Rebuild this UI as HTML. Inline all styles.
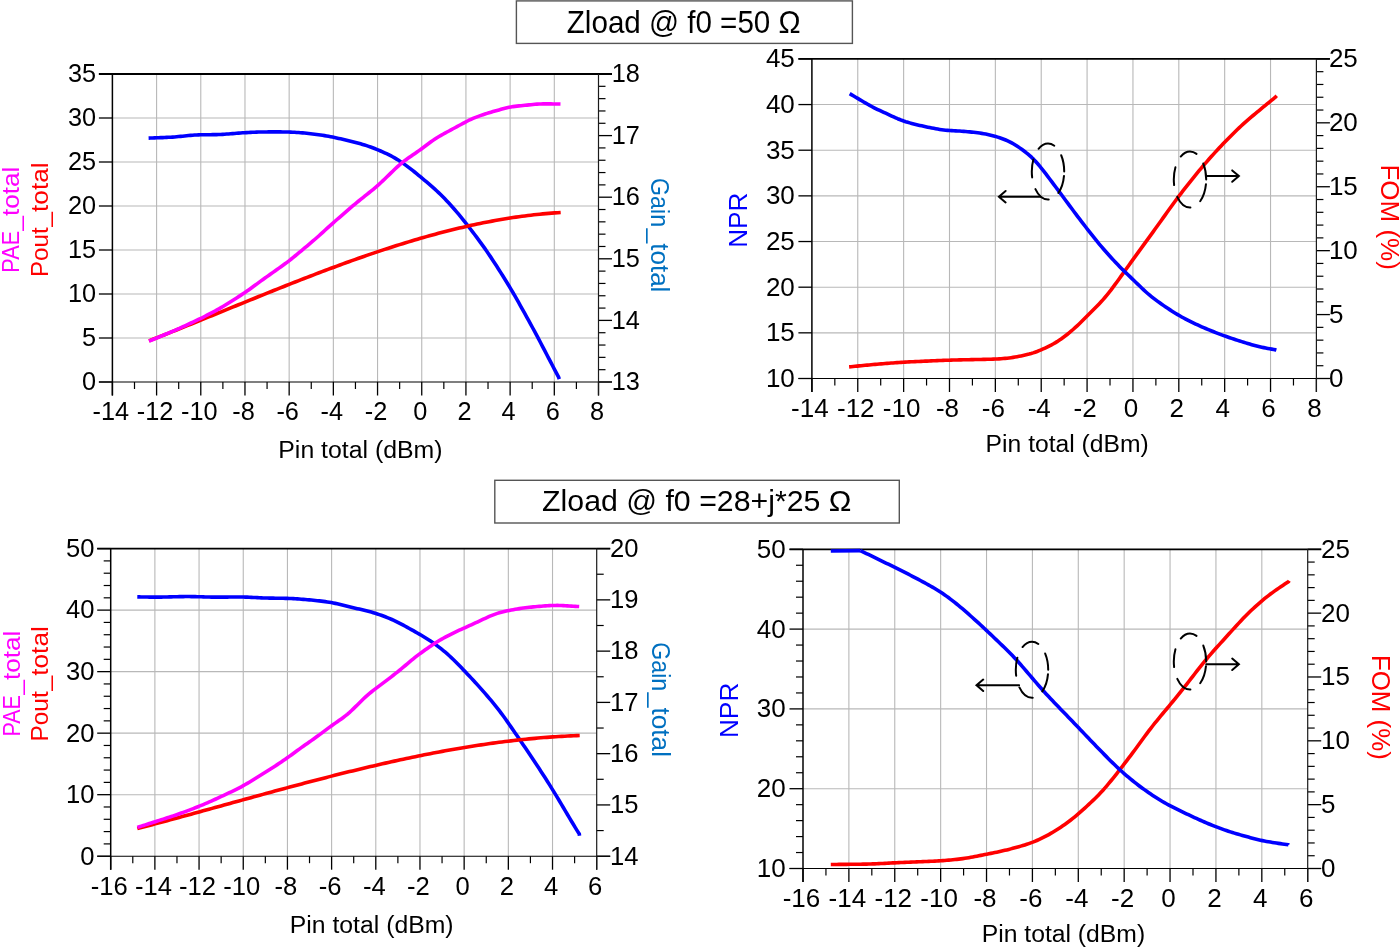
<!DOCTYPE html><html><head><meta charset="utf-8"><style>html,body{margin:0;padding:0;background:#fff;}svg{display:block;will-change:transform;}text{font-family:"Liberation Sans",sans-serif;}</style></head><body>
<svg width="1400" height="948" viewBox="0 0 1400 948">
<rect width="1400" height="948" fill="#fff"/>
<g id="c0">
<line x1="156.59" y1="74" x2="156.59" y2="382" stroke="#b8b8b8" stroke-width="1.1"/>
<line x1="200.78" y1="74" x2="200.78" y2="382" stroke="#b8b8b8" stroke-width="1.1"/>
<line x1="244.97" y1="74" x2="244.97" y2="382" stroke="#b8b8b8" stroke-width="1.1"/>
<line x1="289.16" y1="74" x2="289.16" y2="382" stroke="#b8b8b8" stroke-width="1.1"/>
<line x1="333.35" y1="74" x2="333.35" y2="382" stroke="#b8b8b8" stroke-width="1.1"/>
<line x1="377.55" y1="74" x2="377.55" y2="382" stroke="#b8b8b8" stroke-width="1.1"/>
<line x1="421.74" y1="74" x2="421.74" y2="382" stroke="#b8b8b8" stroke-width="1.1"/>
<line x1="465.93" y1="74" x2="465.93" y2="382" stroke="#b8b8b8" stroke-width="1.1"/>
<line x1="510.12" y1="74" x2="510.12" y2="382" stroke="#b8b8b8" stroke-width="1.1"/>
<line x1="554.31" y1="74" x2="554.31" y2="382" stroke="#b8b8b8" stroke-width="1.1"/>
<line x1="112.4" y1="338" x2="598.5" y2="338" stroke="#b8b8b8" stroke-width="1.1"/>
<line x1="112.4" y1="294" x2="598.5" y2="294" stroke="#b8b8b8" stroke-width="1.1"/>
<line x1="112.4" y1="250" x2="598.5" y2="250" stroke="#b8b8b8" stroke-width="1.1"/>
<line x1="112.4" y1="206" x2="598.5" y2="206" stroke="#b8b8b8" stroke-width="1.1"/>
<line x1="112.4" y1="162" x2="598.5" y2="162" stroke="#b8b8b8" stroke-width="1.1"/>
<line x1="112.4" y1="118" x2="598.5" y2="118" stroke="#b8b8b8" stroke-width="1.1"/>
<line x1="134.5" y1="382" x2="134.5" y2="389" stroke="#000" stroke-width="1.2"/>
<line x1="178.69" y1="382" x2="178.69" y2="389" stroke="#000" stroke-width="1.2"/>
<line x1="222.88" y1="382" x2="222.88" y2="389" stroke="#000" stroke-width="1.2"/>
<line x1="267.07" y1="382" x2="267.07" y2="389" stroke="#000" stroke-width="1.2"/>
<line x1="311.26" y1="382" x2="311.26" y2="389" stroke="#000" stroke-width="1.2"/>
<line x1="355.45" y1="382" x2="355.45" y2="389" stroke="#000" stroke-width="1.2"/>
<line x1="399.64" y1="382" x2="399.64" y2="389" stroke="#000" stroke-width="1.2"/>
<line x1="443.83" y1="382" x2="443.83" y2="389" stroke="#000" stroke-width="1.2"/>
<line x1="488.02" y1="382" x2="488.02" y2="389" stroke="#000" stroke-width="1.2"/>
<line x1="532.21" y1="382" x2="532.21" y2="389" stroke="#000" stroke-width="1.2"/>
<line x1="576.4" y1="382" x2="576.4" y2="389" stroke="#000" stroke-width="1.2"/>
<line x1="112.4" y1="382" x2="112.4" y2="395.5" stroke="#000" stroke-width="1.3"/>
<line x1="156.59" y1="382" x2="156.59" y2="395.5" stroke="#000" stroke-width="1.3"/>
<line x1="200.78" y1="382" x2="200.78" y2="395.5" stroke="#000" stroke-width="1.3"/>
<line x1="244.97" y1="382" x2="244.97" y2="395.5" stroke="#000" stroke-width="1.3"/>
<line x1="289.16" y1="382" x2="289.16" y2="395.5" stroke="#000" stroke-width="1.3"/>
<line x1="333.35" y1="382" x2="333.35" y2="395.5" stroke="#000" stroke-width="1.3"/>
<line x1="377.55" y1="382" x2="377.55" y2="395.5" stroke="#000" stroke-width="1.3"/>
<line x1="421.74" y1="382" x2="421.74" y2="395.5" stroke="#000" stroke-width="1.3"/>
<line x1="465.93" y1="382" x2="465.93" y2="395.5" stroke="#000" stroke-width="1.3"/>
<line x1="510.12" y1="382" x2="510.12" y2="395.5" stroke="#000" stroke-width="1.3"/>
<line x1="554.31" y1="382" x2="554.31" y2="395.5" stroke="#000" stroke-width="1.3"/>
<line x1="598.5" y1="382" x2="598.5" y2="395.5" stroke="#000" stroke-width="1.3"/>
<line x1="98.9" y1="382" x2="112.4" y2="382" stroke="#000" stroke-width="1.3"/>
<line x1="98.9" y1="338" x2="112.4" y2="338" stroke="#000" stroke-width="1.3"/>
<line x1="98.9" y1="294" x2="112.4" y2="294" stroke="#000" stroke-width="1.3"/>
<line x1="98.9" y1="250" x2="112.4" y2="250" stroke="#000" stroke-width="1.3"/>
<line x1="98.9" y1="206" x2="112.4" y2="206" stroke="#000" stroke-width="1.3"/>
<line x1="98.9" y1="162" x2="112.4" y2="162" stroke="#000" stroke-width="1.3"/>
<line x1="98.9" y1="118" x2="112.4" y2="118" stroke="#000" stroke-width="1.3"/>
<line x1="98.9" y1="74" x2="112.4" y2="74" stroke="#000" stroke-width="1.3"/>
<line x1="598.5" y1="369.68" x2="605.5" y2="369.68" stroke="#000" stroke-width="1.2"/>
<line x1="598.5" y1="357.36" x2="605.5" y2="357.36" stroke="#000" stroke-width="1.2"/>
<line x1="598.5" y1="345.04" x2="605.5" y2="345.04" stroke="#000" stroke-width="1.2"/>
<line x1="598.5" y1="332.72" x2="605.5" y2="332.72" stroke="#000" stroke-width="1.2"/>
<line x1="598.5" y1="308.08" x2="605.5" y2="308.08" stroke="#000" stroke-width="1.2"/>
<line x1="598.5" y1="295.76" x2="605.5" y2="295.76" stroke="#000" stroke-width="1.2"/>
<line x1="598.5" y1="283.44" x2="605.5" y2="283.44" stroke="#000" stroke-width="1.2"/>
<line x1="598.5" y1="271.12" x2="605.5" y2="271.12" stroke="#000" stroke-width="1.2"/>
<line x1="598.5" y1="246.48" x2="605.5" y2="246.48" stroke="#000" stroke-width="1.2"/>
<line x1="598.5" y1="234.16" x2="605.5" y2="234.16" stroke="#000" stroke-width="1.2"/>
<line x1="598.5" y1="221.84" x2="605.5" y2="221.84" stroke="#000" stroke-width="1.2"/>
<line x1="598.5" y1="209.52" x2="605.5" y2="209.52" stroke="#000" stroke-width="1.2"/>
<line x1="598.5" y1="184.88" x2="605.5" y2="184.88" stroke="#000" stroke-width="1.2"/>
<line x1="598.5" y1="172.56" x2="605.5" y2="172.56" stroke="#000" stroke-width="1.2"/>
<line x1="598.5" y1="160.24" x2="605.5" y2="160.24" stroke="#000" stroke-width="1.2"/>
<line x1="598.5" y1="147.92" x2="605.5" y2="147.92" stroke="#000" stroke-width="1.2"/>
<line x1="598.5" y1="123.28" x2="605.5" y2="123.28" stroke="#000" stroke-width="1.2"/>
<line x1="598.5" y1="110.96" x2="605.5" y2="110.96" stroke="#000" stroke-width="1.2"/>
<line x1="598.5" y1="98.64" x2="605.5" y2="98.64" stroke="#000" stroke-width="1.2"/>
<line x1="598.5" y1="86.32" x2="605.5" y2="86.32" stroke="#000" stroke-width="1.2"/>
<line x1="598.5" y1="382" x2="612" y2="382" stroke="#000" stroke-width="1.3"/>
<line x1="598.5" y1="320.4" x2="612" y2="320.4" stroke="#000" stroke-width="1.3"/>
<line x1="598.5" y1="258.8" x2="612" y2="258.8" stroke="#000" stroke-width="1.3"/>
<line x1="598.5" y1="197.2" x2="612" y2="197.2" stroke="#000" stroke-width="1.3"/>
<line x1="598.5" y1="135.6" x2="612" y2="135.6" stroke="#000" stroke-width="1.3"/>
<line x1="598.5" y1="74" x2="612" y2="74" stroke="#000" stroke-width="1.3"/>
<line x1="98.9" y1="74" x2="612" y2="74" stroke="#000" stroke-width="1.8"/>
<line x1="112.4" y1="74" x2="112.4" y2="395.5" stroke="#000" stroke-width="1.5"/>
<line x1="98.9" y1="382" x2="612" y2="382" stroke="#000" stroke-width="1.1"/>
<line x1="598.5" y1="74" x2="598.5" y2="395.5" stroke="#1a1a1a" stroke-width="1.2"/>
<text x="110.9" y="420.3" font-size="25.3" text-anchor="middle">-14</text>
<text x="155.09" y="420.3" font-size="25.3" text-anchor="middle">-12</text>
<text x="199.28" y="420.3" font-size="25.3" text-anchor="middle">-10</text>
<text x="243.47" y="420.3" font-size="25.3" text-anchor="middle">-8</text>
<text x="287.66" y="420.3" font-size="25.3" text-anchor="middle">-6</text>
<text x="331.85" y="420.3" font-size="25.3" text-anchor="middle">-4</text>
<text x="376.05" y="420.3" font-size="25.3" text-anchor="middle">-2</text>
<text x="420.24" y="420.3" font-size="25.3" text-anchor="middle">0</text>
<text x="464.43" y="420.3" font-size="25.3" text-anchor="middle">2</text>
<text x="508.62" y="420.3" font-size="25.3" text-anchor="middle">4</text>
<text x="552.81" y="420.3" font-size="25.3" text-anchor="middle">6</text>
<text x="597" y="420.3" font-size="25.3" text-anchor="middle">8</text>
<text x="96.1" y="390.25" font-size="25.3" text-anchor="end">0</text>
<text x="96.1" y="346.25" font-size="25.3" text-anchor="end">5</text>
<text x="96.1" y="302.25" font-size="25.3" text-anchor="end">10</text>
<text x="96.1" y="258.25" font-size="25.3" text-anchor="end">15</text>
<text x="96.1" y="214.25" font-size="25.3" text-anchor="end">20</text>
<text x="96.1" y="170.25" font-size="25.3" text-anchor="end">25</text>
<text x="96.1" y="126.26" font-size="25.3" text-anchor="end">30</text>
<text x="96.1" y="82.26" font-size="25.3" text-anchor="end">35</text>
<text x="611.8" y="390.25" font-size="25.3">13</text>
<text x="611.8" y="328.65" font-size="25.3">14</text>
<text x="611.8" y="267.06" font-size="25.3">15</text>
<text x="611.8" y="205.46" font-size="25.3">16</text>
<text x="611.8" y="143.85" font-size="25.3">17</text>
<text x="611.8" y="82.26" font-size="25.3">18</text>
<polyline points="148.6,138.11 150.6,138.03 152.6,137.96 154.6,137.88 156.6,137.81 158.6,137.73 160.6,137.65 162.6,137.58 164.6,137.49 166.6,137.41 168.6,137.31 170.6,137.2 172.6,137.08 174.6,136.93 176.6,136.77 178.6,136.58 180.6,136.38 182.6,136.17 184.6,135.95 186.6,135.74 188.6,135.53 190.6,135.34 192.6,135.18 194.6,135.04 196.6,134.93 198.6,134.85 200.6,134.79 202.6,134.75 204.6,134.73 206.6,134.71 208.6,134.69 210.6,134.68 212.6,134.66 214.6,134.62 216.6,134.58 218.6,134.51 220.6,134.43 222.6,134.33 224.6,134.21 226.6,134.07 228.6,133.93 230.6,133.77 232.6,133.61 234.6,133.45 236.6,133.28 238.6,133.13 240.6,132.98 242.6,132.83 244.6,132.7 246.6,132.58 248.6,132.46 250.6,132.36 252.6,132.27 254.6,132.19 256.6,132.12 258.6,132.06 260.6,132.01 262.6,131.98 264.6,131.95 266.6,131.93 268.6,131.92 270.6,131.91 272.6,131.91 274.6,131.91 276.6,131.91 278.6,131.91 280.6,131.92 282.6,131.94 284.6,131.97 286.6,132.01 288.6,132.06 290.6,132.13 292.6,132.21 294.6,132.31 296.6,132.43 298.6,132.56 300.6,132.72 302.6,132.89 304.6,133.08 306.6,133.28 308.6,133.5 310.6,133.72 312.6,133.96 314.6,134.2 316.6,134.45 318.6,134.71 320.6,134.99 322.6,135.29 324.6,135.6 326.6,135.95 328.6,136.31 330.6,136.7 332.6,137.1 334.6,137.52 336.6,137.96 338.6,138.4 340.6,138.85 342.6,139.3 344.6,139.76 346.6,140.24 348.6,140.72 350.6,141.21 352.6,141.71 354.6,142.22 356.6,142.75 358.6,143.28 360.6,143.84 362.6,144.41 364.6,145.02 366.6,145.65 368.6,146.33 370.6,147.03 372.6,147.78 374.6,148.55 376.6,149.35 378.6,150.18 380.6,151.02 382.6,151.89 384.6,152.78 386.6,153.7 388.6,154.67 390.6,155.69 392.6,156.76 394.6,157.89 396.6,159.08 398.6,160.33 400.6,161.64 402.6,162.99 404.6,164.39 406.6,165.84 408.6,167.33 410.6,168.86 412.6,170.43 414.6,172.03 416.6,173.66 418.6,175.31 420.6,176.96 422.6,178.63 424.6,180.29 426.6,181.96 428.6,183.65 430.6,185.36 432.6,187.11 434.6,188.9 436.6,190.74 438.6,192.64 440.6,194.58 442.6,196.57 444.6,198.61 446.6,200.68 448.6,202.8 450.6,204.97 452.6,207.19 454.6,209.47 456.6,211.8 458.6,214.18 460.6,216.6 462.6,219.07 464.6,221.57 466.6,224.11 468.6,226.67 470.6,229.26 472.6,231.87 474.6,234.51 476.6,237.17 478.6,239.86 480.6,242.58 482.6,245.34 484.6,248.14 486.6,250.99 488.6,253.9 490.6,256.87 492.6,259.88 494.6,262.95 496.6,266.05 498.6,269.18 500.6,272.34 502.6,275.52 504.6,278.73 506.6,281.98 508.6,285.27 510.6,288.61 512.6,292 514.6,295.44 516.6,298.92 518.6,302.45 520.6,306.01 522.6,309.59 524.6,313.19 526.6,316.8 528.6,320.44 530.6,324.09 532.6,327.76 534.6,331.46 536.6,335.19 538.6,338.96 540.6,342.75 542.6,346.56 544.6,350.39 546.6,354.24 548.6,358.09 550.6,361.93 552.6,365.76 554.6,369.58 556.6,373.38 558.6,377.16 559.3,379.05" fill="none" stroke="#0000ff" stroke-width="3.6" stroke-linejoin="round" stroke-linecap="butt"/>
<polyline points="149,340.86 151.98,339.69 154.97,338.52 157.95,337.34 160.93,336.16 163.92,334.98 166.9,333.8 169.88,332.61 172.87,331.41 175.85,330.22 178.83,329.02 181.82,327.82 184.8,326.62 187.78,325.41 190.77,324.21 193.75,323 196.73,321.79 199.72,320.58 202.7,319.37 205.68,318.15 208.67,316.94 211.65,315.72 214.63,314.51 217.62,313.29 220.6,312.07 223.58,310.85 226.57,309.64 229.55,308.42 232.53,307.2 235.52,305.99 238.5,304.77 241.48,303.56 244.47,302.34 247.45,301.13 250.43,299.92 253.42,298.71 256.4,297.5 259.38,296.29 262.37,295.09 265.35,293.89 268.33,292.68 271.32,291.49 274.3,290.29 277.28,289.1 280.27,287.91 283.25,286.72 286.23,285.54 289.22,284.36 292.2,283.18 295.18,282.01 298.17,280.84 301.15,279.68 304.13,278.52 307.12,277.36 310.1,276.21 313.08,275.07 316.07,273.92 319.05,272.79 322.03,271.66 325.02,270.53 328,269.41 330.98,268.3 333.97,267.19 336.95,266.08 339.93,264.99 342.92,263.9 345.9,262.81 348.88,261.74 351.87,260.67 354.85,259.6 357.83,258.55 360.82,257.5 363.8,256.46 366.78,255.42 369.77,254.4 372.75,253.38 375.73,252.37 378.72,251.37 381.7,250.38 384.68,249.39 387.67,248.42 390.65,247.45 393.63,246.49 396.62,245.55 399.6,244.61 402.58,243.68 405.57,242.76 408.55,241.85 411.53,240.95 414.52,240.07 417.5,239.19 420.48,238.32 423.47,237.46 426.45,236.62 429.43,235.78 432.42,234.96 435.4,234.15 438.38,233.35 441.37,232.56 444.35,231.78 447.33,231.02 450.32,230.26 453.3,229.52 456.28,228.8 459.27,228.08 462.25,227.38 465.23,226.69 468.22,226.02 471.2,225.35 474.18,224.71 477.17,224.07 480.15,223.45 483.13,222.84 486.12,222.25 489.1,221.67 492.08,221.11 495.07,220.56 498.05,220.02 501.03,219.5 504.02,219 507,218.51 509.98,218.04 512.97,217.58 515.95,217.14 518.93,216.71 521.92,216.3 524.9,215.91 527.88,215.53 530.87,215.17 533.85,214.83 536.83,214.5 539.82,214.19 542.8,213.9 545.78,213.63 548.77,213.37 551.75,213.13 554.73,212.91 557.72,212.71 560.7,212.52" fill="none" stroke="#ff0000" stroke-width="3.6" stroke-linejoin="round" stroke-linecap="butt"/>
<polyline points="149,341.2 151,340.36 153,339.53 155,338.69 157,337.86 159,337.02 161,336.19 163,335.35 165,334.51 167,333.68 169,332.84 171,332 173,331.16 175,330.3 177,329.43 179,328.54 181,327.63 183,326.71 185,325.79 187,324.86 189,323.93 191,323 193,322.07 195,321.14 197,320.2 199,319.24 201,318.26 203,317.27 205,316.25 207,315.22 209,314.19 211,313.15 213,312.1 215,311.04 217,309.95 219,308.82 221,307.65 223,306.44 225,305.21 227,303.96 229,302.7 231,301.44 233,300.18 235,298.92 237,297.66 239,296.39 241,295.11 243,293.81 245,292.47 247,291.09 249,289.67 251,288.22 253,286.76 255,285.3 257,283.83 259,282.36 261,280.91 263,279.46 265,278.03 267,276.61 269,275.2 271,273.8 273,272.39 275,270.99 277,269.57 279,268.15 281,266.72 283,265.28 285,263.82 287,262.33 289,260.81 291,259.25 293,257.65 295,256.02 297,254.38 299,252.72 301,251.06 303,249.4 305,247.73 307,246.06 309,244.38 311,242.69 313,240.99 315,239.26 317,237.5 319,235.72 321,233.92 323,232.1 325,230.28 327,228.45 329,226.63 331,224.83 333,223.04 335,221.27 337,219.52 339,217.78 341,216.05 343,214.32 345,212.6 347,210.87 349,209.15 351,207.44 353,205.74 355,204.05 357,202.4 359,200.76 361,199.15 363,197.55 365,195.95 367,194.36 369,192.76 371,191.16 373,189.54 375,187.88 377,186.16 379,184.38 381,182.53 383,180.63 385,178.71 387,176.78 389,174.84 391,172.9 393,170.96 395,169.04 397,167.14 399,165.31 401,163.57 403,161.94 405,160.42 407,158.97 409,157.56 411,156.18 413,154.8 415,153.42 417,152.03 419,150.61 421,149.18 423,147.72 425,146.24 427,144.75 429,143.26 431,141.79 433,140.36 435,138.99 437,137.7 439,136.48 441,135.33 443,134.22 445,133.13 447,132.04 449,130.96 451,129.88 453,128.79 455,127.71 457,126.63 459,125.54 461,124.46 463,123.38 465,122.3 467,121.25 469,120.23 471,119.27 473,118.38 475,117.57 477,116.82 479,116.11 481,115.41 483,114.73 485,114.06 487,113.41 489,112.79 491,112.19 493,111.6 495,111.03 497,110.46 499,109.9 501,109.34 503,108.78 505,108.25 507,107.74 509,107.29 511,106.91 513,106.59 515,106.34 517,106.11 519,105.9 521,105.7 523,105.5 525,105.3 527,105.1 529,104.9 531,104.7 533,104.51 535,104.32 537,104.16 539,104.02 541,103.93 543,103.89 545,103.87 547,103.88 549,103.89 551,103.91 553,103.93 555,103.95 557,103.96 559,103.98 560.5,104" fill="none" stroke="#ff00ff" stroke-width="3.6" stroke-linejoin="round" stroke-linecap="butt"/>
</g>
<g id="c1">
<line x1="857.76" y1="58.9" x2="857.76" y2="378.5" stroke="#b8b8b8" stroke-width="1.1"/>
<line x1="903.63" y1="58.9" x2="903.63" y2="378.5" stroke="#b8b8b8" stroke-width="1.1"/>
<line x1="949.49" y1="58.9" x2="949.49" y2="378.5" stroke="#b8b8b8" stroke-width="1.1"/>
<line x1="995.35" y1="58.9" x2="995.35" y2="378.5" stroke="#b8b8b8" stroke-width="1.1"/>
<line x1="1041.22" y1="58.9" x2="1041.22" y2="378.5" stroke="#b8b8b8" stroke-width="1.1"/>
<line x1="1087.08" y1="58.9" x2="1087.08" y2="378.5" stroke="#b8b8b8" stroke-width="1.1"/>
<line x1="1132.95" y1="58.9" x2="1132.95" y2="378.5" stroke="#b8b8b8" stroke-width="1.1"/>
<line x1="1178.81" y1="58.9" x2="1178.81" y2="378.5" stroke="#b8b8b8" stroke-width="1.1"/>
<line x1="1224.67" y1="58.9" x2="1224.67" y2="378.5" stroke="#b8b8b8" stroke-width="1.1"/>
<line x1="1270.54" y1="58.9" x2="1270.54" y2="378.5" stroke="#b8b8b8" stroke-width="1.1"/>
<line x1="811.9" y1="332.84" x2="1316.4" y2="332.84" stroke="#b8b8b8" stroke-width="1.1"/>
<line x1="811.9" y1="287.19" x2="1316.4" y2="287.19" stroke="#b8b8b8" stroke-width="1.1"/>
<line x1="811.9" y1="241.53" x2="1316.4" y2="241.53" stroke="#b8b8b8" stroke-width="1.1"/>
<line x1="811.9" y1="195.87" x2="1316.4" y2="195.87" stroke="#b8b8b8" stroke-width="1.1"/>
<line x1="811.9" y1="150.21" x2="1316.4" y2="150.21" stroke="#b8b8b8" stroke-width="1.1"/>
<line x1="811.9" y1="104.56" x2="1316.4" y2="104.56" stroke="#b8b8b8" stroke-width="1.1"/>
<line x1="834.83" y1="378.5" x2="834.83" y2="385.5" stroke="#000" stroke-width="1.2"/>
<line x1="880.7" y1="378.5" x2="880.7" y2="385.5" stroke="#000" stroke-width="1.2"/>
<line x1="926.56" y1="378.5" x2="926.56" y2="385.5" stroke="#000" stroke-width="1.2"/>
<line x1="972.42" y1="378.5" x2="972.42" y2="385.5" stroke="#000" stroke-width="1.2"/>
<line x1="1018.29" y1="378.5" x2="1018.29" y2="385.5" stroke="#000" stroke-width="1.2"/>
<line x1="1064.15" y1="378.5" x2="1064.15" y2="385.5" stroke="#000" stroke-width="1.2"/>
<line x1="1110.01" y1="378.5" x2="1110.01" y2="385.5" stroke="#000" stroke-width="1.2"/>
<line x1="1155.88" y1="378.5" x2="1155.88" y2="385.5" stroke="#000" stroke-width="1.2"/>
<line x1="1201.74" y1="378.5" x2="1201.74" y2="385.5" stroke="#000" stroke-width="1.2"/>
<line x1="1247.6" y1="378.5" x2="1247.6" y2="385.5" stroke="#000" stroke-width="1.2"/>
<line x1="1293.47" y1="378.5" x2="1293.47" y2="385.5" stroke="#000" stroke-width="1.2"/>
<line x1="811.9" y1="378.5" x2="811.9" y2="392" stroke="#000" stroke-width="1.3"/>
<line x1="857.76" y1="378.5" x2="857.76" y2="392" stroke="#000" stroke-width="1.3"/>
<line x1="903.63" y1="378.5" x2="903.63" y2="392" stroke="#000" stroke-width="1.3"/>
<line x1="949.49" y1="378.5" x2="949.49" y2="392" stroke="#000" stroke-width="1.3"/>
<line x1="995.35" y1="378.5" x2="995.35" y2="392" stroke="#000" stroke-width="1.3"/>
<line x1="1041.22" y1="378.5" x2="1041.22" y2="392" stroke="#000" stroke-width="1.3"/>
<line x1="1087.08" y1="378.5" x2="1087.08" y2="392" stroke="#000" stroke-width="1.3"/>
<line x1="1132.95" y1="378.5" x2="1132.95" y2="392" stroke="#000" stroke-width="1.3"/>
<line x1="1178.81" y1="378.5" x2="1178.81" y2="392" stroke="#000" stroke-width="1.3"/>
<line x1="1224.67" y1="378.5" x2="1224.67" y2="392" stroke="#000" stroke-width="1.3"/>
<line x1="1270.54" y1="378.5" x2="1270.54" y2="392" stroke="#000" stroke-width="1.3"/>
<line x1="1316.4" y1="378.5" x2="1316.4" y2="392" stroke="#000" stroke-width="1.3"/>
<line x1="798.4" y1="378.5" x2="811.9" y2="378.5" stroke="#000" stroke-width="1.3"/>
<line x1="798.4" y1="332.84" x2="811.9" y2="332.84" stroke="#000" stroke-width="1.3"/>
<line x1="798.4" y1="287.19" x2="811.9" y2="287.19" stroke="#000" stroke-width="1.3"/>
<line x1="798.4" y1="241.53" x2="811.9" y2="241.53" stroke="#000" stroke-width="1.3"/>
<line x1="798.4" y1="195.87" x2="811.9" y2="195.87" stroke="#000" stroke-width="1.3"/>
<line x1="798.4" y1="150.21" x2="811.9" y2="150.21" stroke="#000" stroke-width="1.3"/>
<line x1="798.4" y1="104.56" x2="811.9" y2="104.56" stroke="#000" stroke-width="1.3"/>
<line x1="798.4" y1="58.9" x2="811.9" y2="58.9" stroke="#000" stroke-width="1.3"/>
<line x1="1316.4" y1="365.72" x2="1323.4" y2="365.72" stroke="#000" stroke-width="1.2"/>
<line x1="1316.4" y1="352.93" x2="1323.4" y2="352.93" stroke="#000" stroke-width="1.2"/>
<line x1="1316.4" y1="340.15" x2="1323.4" y2="340.15" stroke="#000" stroke-width="1.2"/>
<line x1="1316.4" y1="327.36" x2="1323.4" y2="327.36" stroke="#000" stroke-width="1.2"/>
<line x1="1316.4" y1="301.8" x2="1323.4" y2="301.8" stroke="#000" stroke-width="1.2"/>
<line x1="1316.4" y1="289.01" x2="1323.4" y2="289.01" stroke="#000" stroke-width="1.2"/>
<line x1="1316.4" y1="276.23" x2="1323.4" y2="276.23" stroke="#000" stroke-width="1.2"/>
<line x1="1316.4" y1="263.44" x2="1323.4" y2="263.44" stroke="#000" stroke-width="1.2"/>
<line x1="1316.4" y1="237.88" x2="1323.4" y2="237.88" stroke="#000" stroke-width="1.2"/>
<line x1="1316.4" y1="225.09" x2="1323.4" y2="225.09" stroke="#000" stroke-width="1.2"/>
<line x1="1316.4" y1="212.31" x2="1323.4" y2="212.31" stroke="#000" stroke-width="1.2"/>
<line x1="1316.4" y1="199.52" x2="1323.4" y2="199.52" stroke="#000" stroke-width="1.2"/>
<line x1="1316.4" y1="173.96" x2="1323.4" y2="173.96" stroke="#000" stroke-width="1.2"/>
<line x1="1316.4" y1="161.17" x2="1323.4" y2="161.17" stroke="#000" stroke-width="1.2"/>
<line x1="1316.4" y1="148.39" x2="1323.4" y2="148.39" stroke="#000" stroke-width="1.2"/>
<line x1="1316.4" y1="135.6" x2="1323.4" y2="135.6" stroke="#000" stroke-width="1.2"/>
<line x1="1316.4" y1="110.04" x2="1323.4" y2="110.04" stroke="#000" stroke-width="1.2"/>
<line x1="1316.4" y1="97.25" x2="1323.4" y2="97.25" stroke="#000" stroke-width="1.2"/>
<line x1="1316.4" y1="84.47" x2="1323.4" y2="84.47" stroke="#000" stroke-width="1.2"/>
<line x1="1316.4" y1="71.68" x2="1323.4" y2="71.68" stroke="#000" stroke-width="1.2"/>
<line x1="1316.4" y1="378.5" x2="1329.9" y2="378.5" stroke="#000" stroke-width="1.3"/>
<line x1="1316.4" y1="314.58" x2="1329.9" y2="314.58" stroke="#000" stroke-width="1.3"/>
<line x1="1316.4" y1="250.66" x2="1329.9" y2="250.66" stroke="#000" stroke-width="1.3"/>
<line x1="1316.4" y1="186.74" x2="1329.9" y2="186.74" stroke="#000" stroke-width="1.3"/>
<line x1="1316.4" y1="122.82" x2="1329.9" y2="122.82" stroke="#000" stroke-width="1.3"/>
<line x1="1316.4" y1="58.9" x2="1329.9" y2="58.9" stroke="#000" stroke-width="1.3"/>
<line x1="798.4" y1="58.9" x2="1329.9" y2="58.9" stroke="#000" stroke-width="1.8"/>
<line x1="811.9" y1="58.9" x2="811.9" y2="392" stroke="#000" stroke-width="1.5"/>
<line x1="798.4" y1="378.5" x2="1329.9" y2="378.5" stroke="#000" stroke-width="1.1"/>
<line x1="1316.4" y1="58.9" x2="1316.4" y2="392" stroke="#1a1a1a" stroke-width="1.2"/>
<text x="809.9" y="416.8" font-size="26" text-anchor="middle">-14</text>
<text x="855.76" y="416.8" font-size="26" text-anchor="middle">-12</text>
<text x="901.63" y="416.8" font-size="26" text-anchor="middle">-10</text>
<text x="947.49" y="416.8" font-size="26" text-anchor="middle">-8</text>
<text x="993.35" y="416.8" font-size="26" text-anchor="middle">-6</text>
<text x="1039.22" y="416.8" font-size="26" text-anchor="middle">-4</text>
<text x="1085.08" y="416.8" font-size="26" text-anchor="middle">-2</text>
<text x="1130.95" y="416.8" font-size="26" text-anchor="middle">0</text>
<text x="1176.81" y="416.8" font-size="26" text-anchor="middle">2</text>
<text x="1222.67" y="416.8" font-size="26" text-anchor="middle">4</text>
<text x="1268.54" y="416.8" font-size="26" text-anchor="middle">6</text>
<text x="1314.4" y="416.8" font-size="26" text-anchor="middle">8</text>
<text x="794.8" y="387" font-size="26" text-anchor="end">10</text>
<text x="794.8" y="341.34" font-size="26" text-anchor="end">15</text>
<text x="794.8" y="295.69" font-size="26" text-anchor="end">20</text>
<text x="794.8" y="250.03" font-size="26" text-anchor="end">25</text>
<text x="794.8" y="204.37" font-size="26" text-anchor="end">30</text>
<text x="794.8" y="158.71" font-size="26" text-anchor="end">35</text>
<text x="794.8" y="113.06" font-size="26" text-anchor="end">40</text>
<text x="794.8" y="67.4" font-size="26" text-anchor="end">45</text>
<text x="1328.9" y="387" font-size="26">0</text>
<text x="1328.9" y="323.08" font-size="26">5</text>
<text x="1328.9" y="259.16" font-size="26">10</text>
<text x="1328.9" y="195.24" font-size="26">15</text>
<text x="1328.9" y="131.32" font-size="26">20</text>
<text x="1328.9" y="67.4" font-size="26">25</text>
<polyline points="849.1,366.89 851.1,366.7 853.1,366.5 855.1,366.3 857.1,366.11 859.1,365.91 861.1,365.71 863.1,365.51 865.1,365.32 867.1,365.13 869.1,364.93 871.1,364.75 873.1,364.56 875.1,364.39 877.1,364.21 879.1,364.04 881.1,363.87 883.1,363.71 885.1,363.55 887.1,363.39 889.1,363.23 891.1,363.08 893.1,362.92 895.1,362.77 897.1,362.62 899.1,362.48 901.1,362.35 903.1,362.22 905.1,362.1 907.1,361.99 909.1,361.89 911.1,361.79 913.1,361.69 915.1,361.6 917.1,361.52 919.1,361.43 921.1,361.34 923.1,361.26 925.1,361.17 927.1,361.08 929.1,361 931.1,360.91 933.1,360.82 935.1,360.74 937.1,360.65 939.1,360.57 941.1,360.48 943.1,360.4 945.1,360.32 947.1,360.25 949.1,360.18 951.1,360.12 953.1,360.06 955.1,360 957.1,359.95 959.1,359.9 961.1,359.85 963.1,359.81 965.1,359.76 967.1,359.72 969.1,359.68 971.1,359.64 973.1,359.59 975.1,359.55 977.1,359.51 979.1,359.47 981.1,359.44 983.1,359.4 985.1,359.36 987.1,359.31 989.1,359.26 991.1,359.2 993.1,359.13 995.1,359.05 997.1,358.96 999.1,358.84 1001.1,358.71 1003.1,358.56 1005.1,358.38 1007.1,358.18 1009.1,357.94 1011.1,357.68 1013.1,357.38 1015.1,357.06 1017.1,356.7 1019.1,356.33 1021.1,355.94 1023.1,355.52 1025.1,355.08 1027.1,354.6 1029.1,354.08 1031.1,353.51 1033.1,352.89 1035.1,352.2 1037.1,351.47 1039.1,350.67 1041.1,349.84 1043.1,348.97 1045.1,348.06 1047.1,347.12 1049.1,346.14 1051.1,345.11 1053.1,344.02 1055.1,342.87 1057.1,341.64 1059.1,340.34 1061.1,338.97 1063.1,337.53 1065.1,336.04 1067.1,334.49 1069.1,332.88 1071.1,331.22 1073.1,329.5 1075.1,327.71 1077.1,325.85 1079.1,323.94 1081.1,321.99 1083.1,320.01 1085.1,318.01 1087.1,316.02 1089.1,314.03 1091.1,312.05 1093.1,310.06 1095.1,308.07 1097.1,306.04 1099.1,303.97 1101.1,301.83 1103.1,299.61 1105.1,297.29 1107.1,294.88 1109.1,292.38 1111.1,289.79 1113.1,287.14 1115.1,284.44 1117.1,281.7 1119.1,278.93 1121.1,276.14 1123.1,273.34 1125.1,270.53 1127.1,267.73 1129.1,264.93 1131.1,262.14 1133.1,259.37 1135.1,256.6 1137.1,253.84 1139.1,251.09 1141.1,248.35 1143.1,245.6 1145.1,242.86 1147.1,240.12 1149.1,237.37 1151.1,234.61 1153.1,231.84 1155.1,229.07 1157.1,226.28 1159.1,223.49 1161.1,220.69 1163.1,217.89 1165.1,215.09 1167.1,212.29 1169.1,209.5 1171.1,206.73 1173.1,203.98 1175.1,201.26 1177.1,198.57 1179.1,195.92 1181.1,193.3 1183.1,190.72 1185.1,188.16 1187.1,185.62 1189.1,183.1 1191.1,180.59 1193.1,178.1 1195.1,175.62 1197.1,173.16 1199.1,170.73 1201.1,168.33 1203.1,165.96 1205.1,163.62 1207.1,161.32 1209.1,159.05 1211.1,156.81 1213.1,154.59 1215.1,152.39 1217.1,150.21 1219.1,148.06 1221.1,145.93 1223.1,143.83 1225.1,141.75 1227.1,139.7 1229.1,137.67 1231.1,135.66 1233.1,133.66 1235.1,131.69 1237.1,129.75 1239.1,127.84 1241.1,125.96 1243.1,124.13 1245.1,122.34 1247.1,120.59 1249.1,118.87 1251.1,117.17 1253.1,115.5 1255.1,113.84 1257.1,112.19 1259.1,110.53 1261.1,108.88 1263.1,107.23 1265.1,105.58 1267.1,103.93 1269.1,102.29 1271.1,100.66 1273.1,99.03 1275.1,97.41 1276.7,95.79" fill="none" stroke="#ff0000" stroke-width="3.6" stroke-linejoin="round" stroke-linecap="butt"/>
<polyline points="849.7,93.67 851.7,94.85 853.7,96.04 855.7,97.23 857.7,98.42 859.7,99.61 861.7,100.8 863.7,101.98 865.7,103.15 867.7,104.3 869.7,105.42 871.7,106.51 873.7,107.55 875.7,108.56 877.7,109.53 879.7,110.48 881.7,111.4 883.7,112.32 885.7,113.23 887.7,114.15 889.7,115.08 891.7,116.01 893.7,116.93 895.7,117.83 897.7,118.71 899.7,119.53 901.7,120.31 903.7,121.03 905.7,121.7 907.7,122.31 909.7,122.89 911.7,123.43 913.7,123.95 915.7,124.45 917.7,124.93 919.7,125.39 921.7,125.85 923.7,126.29 925.7,126.72 927.7,127.14 929.7,127.55 931.7,127.96 933.7,128.35 935.7,128.73 937.7,129.09 939.7,129.43 941.7,129.73 943.7,129.99 945.7,130.21 947.7,130.39 949.7,130.54 951.7,130.66 953.7,130.76 955.7,130.86 957.7,130.96 959.7,131.07 961.7,131.2 963.7,131.34 965.7,131.5 967.7,131.68 969.7,131.88 971.7,132.09 973.7,132.32 975.7,132.56 977.7,132.81 979.7,133.08 981.7,133.38 983.7,133.7 985.7,134.06 987.7,134.46 989.7,134.91 991.7,135.41 993.7,135.94 995.7,136.52 997.7,137.14 999.7,137.79 1001.7,138.48 1003.7,139.22 1005.7,140.02 1007.7,140.89 1009.7,141.84 1011.7,142.89 1013.7,144.02 1015.7,145.24 1017.7,146.53 1019.7,147.88 1021.7,149.29 1023.7,150.76 1025.7,152.29 1027.7,153.91 1029.7,155.62 1031.7,157.45 1033.7,159.41 1035.7,161.52 1037.7,163.76 1039.7,166.12 1041.7,168.58 1043.7,171.11 1045.7,173.7 1047.7,176.33 1049.7,178.97 1051.7,181.63 1053.7,184.3 1055.7,186.98 1057.7,189.67 1059.7,192.36 1061.7,195.05 1063.7,197.75 1065.7,200.46 1067.7,203.16 1069.7,205.86 1071.7,208.55 1073.7,211.24 1075.7,213.9 1077.7,216.56 1079.7,219.19 1081.7,221.81 1083.7,224.41 1085.7,227 1087.7,229.57 1089.7,232.13 1091.7,234.67 1093.7,237.18 1095.7,239.67 1097.7,242.12 1099.7,244.53 1101.7,246.9 1103.7,249.23 1105.7,251.52 1107.7,253.77 1109.7,255.99 1111.7,258.18 1113.7,260.35 1115.7,262.48 1117.7,264.58 1119.7,266.64 1121.7,268.66 1123.7,270.64 1125.7,272.59 1127.7,274.51 1129.7,276.42 1131.7,278.33 1133.7,280.26 1135.7,282.19 1137.7,284.14 1139.7,286.08 1141.7,288 1143.7,289.89 1145.7,291.72 1147.7,293.48 1149.7,295.17 1151.7,296.8 1153.7,298.37 1155.7,299.89 1157.7,301.36 1159.7,302.81 1161.7,304.22 1163.7,305.61 1165.7,306.98 1167.7,308.31 1169.7,309.62 1171.7,310.91 1173.7,312.17 1175.7,313.41 1177.7,314.61 1179.7,315.79 1181.7,316.94 1183.7,318.05 1185.7,319.13 1187.7,320.17 1189.7,321.18 1191.7,322.16 1193.7,323.12 1195.7,324.06 1197.7,324.98 1199.7,325.89 1201.7,326.78 1203.7,327.66 1205.7,328.51 1207.7,329.36 1209.7,330.18 1211.7,330.99 1213.7,331.79 1215.7,332.58 1217.7,333.35 1219.7,334.11 1221.7,334.86 1223.7,335.59 1225.7,336.31 1227.7,337.01 1229.7,337.7 1231.7,338.38 1233.7,339.04 1235.7,339.7 1237.7,340.36 1239.7,341 1241.7,341.64 1243.7,342.27 1245.7,342.88 1247.7,343.49 1249.7,344.08 1251.7,344.66 1253.7,345.22 1255.7,345.75 1257.7,346.26 1259.7,346.75 1261.7,347.2 1263.7,347.62 1265.7,348.02 1267.7,348.41 1269.7,348.78 1271.7,349.14 1273.7,349.5 1275.7,349.87 1276.4,350.06" fill="none" stroke="#0000ff" stroke-width="3.6" stroke-linejoin="round" stroke-linecap="butt"/>
</g>
<g id="c2">
<line x1="154.88" y1="548.6" x2="154.88" y2="856.2" stroke="#b8b8b8" stroke-width="1.1"/>
<line x1="199.06" y1="548.6" x2="199.06" y2="856.2" stroke="#b8b8b8" stroke-width="1.1"/>
<line x1="243.25" y1="548.6" x2="243.25" y2="856.2" stroke="#b8b8b8" stroke-width="1.1"/>
<line x1="287.43" y1="548.6" x2="287.43" y2="856.2" stroke="#b8b8b8" stroke-width="1.1"/>
<line x1="331.61" y1="548.6" x2="331.61" y2="856.2" stroke="#b8b8b8" stroke-width="1.1"/>
<line x1="375.79" y1="548.6" x2="375.79" y2="856.2" stroke="#b8b8b8" stroke-width="1.1"/>
<line x1="419.97" y1="548.6" x2="419.97" y2="856.2" stroke="#b8b8b8" stroke-width="1.1"/>
<line x1="464.15" y1="548.6" x2="464.15" y2="856.2" stroke="#b8b8b8" stroke-width="1.1"/>
<line x1="508.34" y1="548.6" x2="508.34" y2="856.2" stroke="#b8b8b8" stroke-width="1.1"/>
<line x1="552.52" y1="548.6" x2="552.52" y2="856.2" stroke="#b8b8b8" stroke-width="1.1"/>
<line x1="110.7" y1="794.68" x2="596.7" y2="794.68" stroke="#b8b8b8" stroke-width="1.1"/>
<line x1="110.7" y1="733.16" x2="596.7" y2="733.16" stroke="#b8b8b8" stroke-width="1.1"/>
<line x1="110.7" y1="671.64" x2="596.7" y2="671.64" stroke="#b8b8b8" stroke-width="1.1"/>
<line x1="110.7" y1="610.12" x2="596.7" y2="610.12" stroke="#b8b8b8" stroke-width="1.1"/>
<line x1="132.79" y1="856.2" x2="132.79" y2="863.2" stroke="#000" stroke-width="1.2"/>
<line x1="176.97" y1="856.2" x2="176.97" y2="863.2" stroke="#000" stroke-width="1.2"/>
<line x1="221.15" y1="856.2" x2="221.15" y2="863.2" stroke="#000" stroke-width="1.2"/>
<line x1="265.34" y1="856.2" x2="265.34" y2="863.2" stroke="#000" stroke-width="1.2"/>
<line x1="309.52" y1="856.2" x2="309.52" y2="863.2" stroke="#000" stroke-width="1.2"/>
<line x1="353.7" y1="856.2" x2="353.7" y2="863.2" stroke="#000" stroke-width="1.2"/>
<line x1="397.88" y1="856.2" x2="397.88" y2="863.2" stroke="#000" stroke-width="1.2"/>
<line x1="442.06" y1="856.2" x2="442.06" y2="863.2" stroke="#000" stroke-width="1.2"/>
<line x1="486.25" y1="856.2" x2="486.25" y2="863.2" stroke="#000" stroke-width="1.2"/>
<line x1="530.43" y1="856.2" x2="530.43" y2="863.2" stroke="#000" stroke-width="1.2"/>
<line x1="574.61" y1="856.2" x2="574.61" y2="863.2" stroke="#000" stroke-width="1.2"/>
<line x1="110.7" y1="856.2" x2="110.7" y2="869.7" stroke="#000" stroke-width="1.3"/>
<line x1="154.88" y1="856.2" x2="154.88" y2="869.7" stroke="#000" stroke-width="1.3"/>
<line x1="199.06" y1="856.2" x2="199.06" y2="869.7" stroke="#000" stroke-width="1.3"/>
<line x1="243.25" y1="856.2" x2="243.25" y2="869.7" stroke="#000" stroke-width="1.3"/>
<line x1="287.43" y1="856.2" x2="287.43" y2="869.7" stroke="#000" stroke-width="1.3"/>
<line x1="331.61" y1="856.2" x2="331.61" y2="869.7" stroke="#000" stroke-width="1.3"/>
<line x1="375.79" y1="856.2" x2="375.79" y2="869.7" stroke="#000" stroke-width="1.3"/>
<line x1="419.97" y1="856.2" x2="419.97" y2="869.7" stroke="#000" stroke-width="1.3"/>
<line x1="464.15" y1="856.2" x2="464.15" y2="869.7" stroke="#000" stroke-width="1.3"/>
<line x1="508.34" y1="856.2" x2="508.34" y2="869.7" stroke="#000" stroke-width="1.3"/>
<line x1="552.52" y1="856.2" x2="552.52" y2="869.7" stroke="#000" stroke-width="1.3"/>
<line x1="596.7" y1="856.2" x2="596.7" y2="869.7" stroke="#000" stroke-width="1.3"/>
<line x1="103.7" y1="843.9" x2="110.7" y2="843.9" stroke="#000" stroke-width="1.2"/>
<line x1="103.7" y1="831.59" x2="110.7" y2="831.59" stroke="#000" stroke-width="1.2"/>
<line x1="103.7" y1="819.29" x2="110.7" y2="819.29" stroke="#000" stroke-width="1.2"/>
<line x1="103.7" y1="806.98" x2="110.7" y2="806.98" stroke="#000" stroke-width="1.2"/>
<line x1="103.7" y1="782.38" x2="110.7" y2="782.38" stroke="#000" stroke-width="1.2"/>
<line x1="103.7" y1="770.07" x2="110.7" y2="770.07" stroke="#000" stroke-width="1.2"/>
<line x1="103.7" y1="757.77" x2="110.7" y2="757.77" stroke="#000" stroke-width="1.2"/>
<line x1="103.7" y1="745.46" x2="110.7" y2="745.46" stroke="#000" stroke-width="1.2"/>
<line x1="103.7" y1="720.86" x2="110.7" y2="720.86" stroke="#000" stroke-width="1.2"/>
<line x1="103.7" y1="708.55" x2="110.7" y2="708.55" stroke="#000" stroke-width="1.2"/>
<line x1="103.7" y1="696.25" x2="110.7" y2="696.25" stroke="#000" stroke-width="1.2"/>
<line x1="103.7" y1="683.94" x2="110.7" y2="683.94" stroke="#000" stroke-width="1.2"/>
<line x1="103.7" y1="659.34" x2="110.7" y2="659.34" stroke="#000" stroke-width="1.2"/>
<line x1="103.7" y1="647.03" x2="110.7" y2="647.03" stroke="#000" stroke-width="1.2"/>
<line x1="103.7" y1="634.73" x2="110.7" y2="634.73" stroke="#000" stroke-width="1.2"/>
<line x1="103.7" y1="622.42" x2="110.7" y2="622.42" stroke="#000" stroke-width="1.2"/>
<line x1="103.7" y1="597.82" x2="110.7" y2="597.82" stroke="#000" stroke-width="1.2"/>
<line x1="103.7" y1="585.51" x2="110.7" y2="585.51" stroke="#000" stroke-width="1.2"/>
<line x1="103.7" y1="573.21" x2="110.7" y2="573.21" stroke="#000" stroke-width="1.2"/>
<line x1="103.7" y1="560.9" x2="110.7" y2="560.9" stroke="#000" stroke-width="1.2"/>
<line x1="97.2" y1="856.2" x2="110.7" y2="856.2" stroke="#000" stroke-width="1.3"/>
<line x1="97.2" y1="794.68" x2="110.7" y2="794.68" stroke="#000" stroke-width="1.3"/>
<line x1="97.2" y1="733.16" x2="110.7" y2="733.16" stroke="#000" stroke-width="1.3"/>
<line x1="97.2" y1="671.64" x2="110.7" y2="671.64" stroke="#000" stroke-width="1.3"/>
<line x1="97.2" y1="610.12" x2="110.7" y2="610.12" stroke="#000" stroke-width="1.3"/>
<line x1="97.2" y1="548.6" x2="110.7" y2="548.6" stroke="#000" stroke-width="1.3"/>
<line x1="596.7" y1="830.57" x2="603.7" y2="830.57" stroke="#000" stroke-width="1.2"/>
<line x1="596.7" y1="779.3" x2="603.7" y2="779.3" stroke="#000" stroke-width="1.2"/>
<line x1="596.7" y1="728.03" x2="603.7" y2="728.03" stroke="#000" stroke-width="1.2"/>
<line x1="596.7" y1="676.77" x2="603.7" y2="676.77" stroke="#000" stroke-width="1.2"/>
<line x1="596.7" y1="625.5" x2="603.7" y2="625.5" stroke="#000" stroke-width="1.2"/>
<line x1="596.7" y1="574.23" x2="603.7" y2="574.23" stroke="#000" stroke-width="1.2"/>
<line x1="596.7" y1="856.2" x2="610.2" y2="856.2" stroke="#000" stroke-width="1.3"/>
<line x1="596.7" y1="804.93" x2="610.2" y2="804.93" stroke="#000" stroke-width="1.3"/>
<line x1="596.7" y1="753.67" x2="610.2" y2="753.67" stroke="#000" stroke-width="1.3"/>
<line x1="596.7" y1="702.4" x2="610.2" y2="702.4" stroke="#000" stroke-width="1.3"/>
<line x1="596.7" y1="651.13" x2="610.2" y2="651.13" stroke="#000" stroke-width="1.3"/>
<line x1="596.7" y1="599.87" x2="610.2" y2="599.87" stroke="#000" stroke-width="1.3"/>
<line x1="596.7" y1="548.6" x2="610.2" y2="548.6" stroke="#000" stroke-width="1.3"/>
<line x1="97.2" y1="548.6" x2="610.2" y2="548.6" stroke="#000" stroke-width="1.8"/>
<line x1="110.7" y1="548.6" x2="110.7" y2="869.7" stroke="#000" stroke-width="1.5"/>
<line x1="97.2" y1="856.2" x2="610.2" y2="856.2" stroke="#000" stroke-width="1.1"/>
<line x1="596.7" y1="548.6" x2="596.7" y2="869.7" stroke="#1a1a1a" stroke-width="1.2"/>
<text x="109.2" y="894.5" font-size="25.6" text-anchor="middle">-16</text>
<text x="153.38" y="894.5" font-size="25.6" text-anchor="middle">-14</text>
<text x="197.56" y="894.5" font-size="25.6" text-anchor="middle">-12</text>
<text x="241.75" y="894.5" font-size="25.6" text-anchor="middle">-10</text>
<text x="285.93" y="894.5" font-size="25.6" text-anchor="middle">-8</text>
<text x="330.11" y="894.5" font-size="25.6" text-anchor="middle">-6</text>
<text x="374.29" y="894.5" font-size="25.6" text-anchor="middle">-4</text>
<text x="418.47" y="894.5" font-size="25.6" text-anchor="middle">-2</text>
<text x="462.65" y="894.5" font-size="25.6" text-anchor="middle">0</text>
<text x="506.84" y="894.5" font-size="25.6" text-anchor="middle">2</text>
<text x="551.02" y="894.5" font-size="25.6" text-anchor="middle">4</text>
<text x="595.2" y="894.5" font-size="25.6" text-anchor="middle">6</text>
<text x="94.4" y="864.56" font-size="25.6" text-anchor="end">0</text>
<text x="94.4" y="803.04" font-size="25.6" text-anchor="end">10</text>
<text x="94.4" y="741.52" font-size="25.6" text-anchor="end">20</text>
<text x="94.4" y="680" font-size="25.6" text-anchor="end">30</text>
<text x="94.4" y="618.48" font-size="25.6" text-anchor="end">40</text>
<text x="94.4" y="556.96" font-size="25.6" text-anchor="end">50</text>
<text x="610" y="864.56" font-size="25.6">14</text>
<text x="610" y="813.29" font-size="25.6">15</text>
<text x="610" y="762.03" font-size="25.6">16</text>
<text x="610" y="710.76" font-size="25.6">17</text>
<text x="610" y="659.49" font-size="25.6">18</text>
<text x="610" y="608.23" font-size="25.6">19</text>
<text x="610" y="556.96" font-size="25.6">20</text>
<polyline points="137.3,596.86 139.3,596.9 141.3,596.94 143.3,596.98 145.3,597.02 147.3,597.06 149.3,597.1 151.3,597.12 153.3,597.14 155.3,597.14 157.3,597.13 159.3,597.11 161.3,597.08 163.3,597.04 165.3,597 167.3,596.95 169.3,596.89 171.3,596.84 173.3,596.79 175.3,596.74 177.3,596.69 179.3,596.64 181.3,596.61 183.3,596.58 185.3,596.56 187.3,596.56 189.3,596.57 191.3,596.59 193.3,596.62 195.3,596.67 197.3,596.71 199.3,596.77 201.3,596.82 203.3,596.88 205.3,596.93 207.3,596.99 209.3,597.04 211.3,597.08 213.3,597.12 215.3,597.14 217.3,597.16 219.3,597.17 221.3,597.16 223.3,597.15 225.3,597.13 227.3,597.1 229.3,597.07 231.3,597.04 233.3,597.01 235.3,596.99 237.3,596.98 239.3,596.98 241.3,596.99 243.3,597.03 245.3,597.08 247.3,597.15 249.3,597.23 251.3,597.33 253.3,597.43 255.3,597.54 257.3,597.65 259.3,597.75 261.3,597.85 263.3,597.93 265.3,598.01 267.3,598.07 269.3,598.11 271.3,598.15 273.3,598.17 275.3,598.19 277.3,598.21 279.3,598.22 281.3,598.25 283.3,598.28 285.3,598.33 287.3,598.39 289.3,598.47 291.3,598.56 293.3,598.67 295.3,598.79 297.3,598.92 299.3,599.06 301.3,599.21 303.3,599.36 305.3,599.53 307.3,599.7 309.3,599.88 311.3,600.07 313.3,600.27 315.3,600.48 317.3,600.69 319.3,600.91 321.3,601.13 323.3,601.38 325.3,601.64 327.3,601.92 329.3,602.24 331.3,602.58 333.3,602.97 335.3,603.38 337.3,603.83 339.3,604.3 341.3,604.79 343.3,605.28 345.3,605.78 347.3,606.27 349.3,606.76 351.3,607.24 353.3,607.72 355.3,608.19 357.3,608.65 359.3,609.11 361.3,609.58 363.3,610.05 365.3,610.53 367.3,611.03 369.3,611.56 371.3,612.11 373.3,612.69 375.3,613.3 377.3,613.95 379.3,614.62 381.3,615.31 383.3,616.04 385.3,616.79 387.3,617.57 389.3,618.39 391.3,619.25 393.3,620.16 395.3,621.11 397.3,622.09 399.3,623.11 401.3,624.15 403.3,625.21 405.3,626.28 407.3,627.37 409.3,628.46 411.3,629.56 413.3,630.68 415.3,631.81 417.3,632.95 419.3,634.11 421.3,635.29 423.3,636.5 425.3,637.73 427.3,638.99 429.3,640.28 431.3,641.61 433.3,642.99 435.3,644.4 437.3,645.87 439.3,647.38 441.3,648.94 443.3,650.55 445.3,652.22 447.3,653.94 449.3,655.73 451.3,657.57 453.3,659.48 455.3,661.44 457.3,663.45 459.3,665.5 461.3,667.57 463.3,669.67 465.3,671.77 467.3,673.89 469.3,676.01 471.3,678.14 473.3,680.29 475.3,682.46 477.3,684.66 479.3,686.87 481.3,689.12 483.3,691.38 485.3,693.67 487.3,695.98 489.3,698.31 491.3,700.67 493.3,703.08 495.3,705.54 497.3,708.06 499.3,710.65 501.3,713.31 503.3,716.03 505.3,718.81 507.3,721.63 509.3,724.49 511.3,727.36 513.3,730.26 515.3,733.17 517.3,736.08 519.3,739.01 521.3,741.95 523.3,744.9 525.3,747.86 527.3,750.83 529.3,753.81 531.3,756.8 533.3,759.8 535.3,762.8 537.3,765.83 539.3,768.86 541.3,771.92 543.3,775 545.3,778.1 547.3,781.24 549.3,784.4 551.3,787.6 553.3,790.83 555.3,794.1 557.3,797.41 559.3,800.74 561.3,804.1 563.3,807.48 565.3,810.87 567.3,814.26 569.3,817.63 571.3,820.98 573.3,824.3 575.3,827.59 577.3,830.84 579.3,834.07 579.5,835.68" fill="none" stroke="#0000ff" stroke-width="3.6" stroke-linejoin="round" stroke-linecap="butt"/>
<polyline points="137.3,828.62 140.29,827.84 143.28,827.05 146.27,826.26 149.26,825.47 152.25,824.67 155.24,823.88 158.22,823.08 161.21,822.27 164.2,821.47 167.19,820.66 170.18,819.85 173.17,819.04 176.16,818.23 179.15,817.42 182.14,816.6 185.13,815.78 188.12,814.97 191.11,814.15 194.09,813.33 197.08,812.5 200.07,811.68 203.06,810.86 206.05,810.03 209.04,809.21 212.03,808.38 215.02,807.56 218.01,806.73 221,805.91 223.99,805.08 226.98,804.25 229.96,803.43 232.95,802.6 235.94,801.77 238.93,800.95 241.92,800.12 244.91,799.3 247.9,798.48 250.89,797.65 253.88,796.83 256.87,796.01 259.86,795.19 262.85,794.37 265.84,793.55 268.82,792.74 271.81,791.92 274.8,791.11 277.79,790.3 280.78,789.49 283.77,788.68 286.76,787.88 289.75,787.07 292.74,786.27 295.73,785.48 298.72,784.68 301.71,783.89 304.69,783.1 307.68,782.31 310.67,781.52 313.66,780.74 316.65,779.96 319.64,779.19 322.63,778.41 325.62,777.64 328.61,776.88 331.6,776.12 334.59,775.36 337.58,774.6 340.56,773.85 343.55,773.1 346.54,772.36 349.53,771.62 352.52,770.89 355.51,770.16 358.5,769.43 361.49,768.71 364.48,768 367.47,767.29 370.46,766.58 373.45,765.88 376.44,765.18 379.42,764.49 382.41,763.81 385.4,763.13 388.39,762.45 391.38,761.78 394.37,761.12 397.36,760.46 400.35,759.81 403.34,759.17 406.33,758.53 409.32,757.9 412.31,757.27 415.29,756.65 418.28,756.04 421.27,755.43 424.26,754.83 427.25,754.24 430.24,753.65 433.23,753.07 436.22,752.5 439.21,751.94 442.2,751.38 445.19,750.83 448.18,750.29 451.16,749.75 454.15,749.23 457.14,748.71 460.13,748.2 463.12,747.69 466.11,747.2 469.1,746.71 472.09,746.24 475.08,745.77 478.07,745.31 481.06,744.86 484.05,744.41 487.04,743.98 490.02,743.56 493.01,743.14 496,742.73 498.99,742.34 501.98,741.95 504.97,741.57 507.96,741.2 510.95,740.85 513.94,740.5 516.93,740.16 519.92,739.83 522.91,739.51 525.89,739.2 528.88,738.91 531.87,738.62 534.86,738.34 537.85,738.08 540.84,737.82 543.83,737.58 546.82,737.34 549.81,737.12 552.8,736.91 555.79,736.71 558.78,736.52 561.76,736.35 564.75,736.18 567.74,736.03 570.73,735.89 573.72,735.76 576.71,735.64 579.7,735.53" fill="none" stroke="#ff0000" stroke-width="3.6" stroke-linejoin="round" stroke-linecap="butt"/>
<polyline points="137.3,827.4 139.3,826.77 141.3,826.13 143.3,825.49 145.3,824.85 147.3,824.22 149.3,823.58 151.3,822.94 153.3,822.3 155.3,821.67 157.3,821.03 159.3,820.39 161.3,819.75 163.3,819.11 165.3,818.46 167.3,817.82 169.3,817.17 171.3,816.51 173.3,815.84 175.3,815.17 177.3,814.48 179.3,813.78 181.3,813.06 183.3,812.34 185.3,811.6 187.3,810.85 189.3,810.1 191.3,809.33 193.3,808.56 195.3,807.78 197.3,806.99 199.3,806.19 201.3,805.38 203.3,804.55 205.3,803.71 207.3,802.85 209.3,801.97 211.3,801.08 213.3,800.17 215.3,799.25 217.3,798.32 219.3,797.39 221.3,796.45 223.3,795.51 225.3,794.58 227.3,793.65 229.3,792.72 231.3,791.78 233.3,790.84 235.3,789.88 237.3,788.89 239.3,787.86 241.3,786.8 243.3,785.69 245.3,784.55 247.3,783.38 249.3,782.17 251.3,780.95 253.3,779.71 255.3,778.47 257.3,777.22 259.3,775.98 261.3,774.74 263.3,773.5 265.3,772.26 267.3,771.01 269.3,769.76 271.3,768.5 273.3,767.22 275.3,765.93 277.3,764.63 279.3,763.3 281.3,761.96 283.3,760.59 285.3,759.21 287.3,757.8 289.3,756.37 291.3,754.93 293.3,753.47 295.3,752.01 297.3,750.55 299.3,749.09 301.3,747.65 303.3,746.23 305.3,744.81 307.3,743.41 309.3,742.02 311.3,740.61 313.3,739.2 315.3,737.77 317.3,736.31 319.3,734.83 321.3,733.34 323.3,731.85 325.3,730.35 327.3,728.87 329.3,727.4 331.3,725.96 333.3,724.54 335.3,723.14 337.3,721.74 339.3,720.35 341.3,718.93 343.3,717.46 345.3,715.93 347.3,714.31 349.3,712.59 351.3,710.78 353.3,708.87 355.3,706.91 357.3,704.9 359.3,702.9 361.3,700.93 363.3,699.01 365.3,697.15 367.3,695.37 369.3,693.66 371.3,692.01 373.3,690.42 375.3,688.88 377.3,687.37 379.3,685.88 381.3,684.4 383.3,682.92 385.3,681.43 387.3,679.91 389.3,678.38 391.3,676.83 393.3,675.27 395.3,673.69 397.3,672.1 399.3,670.48 401.3,668.85 403.3,667.18 405.3,665.5 407.3,663.8 409.3,662.1 411.3,660.43 413.3,658.79 415.3,657.2 417.3,655.65 419.3,654.15 421.3,652.69 423.3,651.24 425.3,649.82 427.3,648.42 429.3,647.04 431.3,645.67 433.3,644.34 435.3,643.05 437.3,641.79 439.3,640.57 441.3,639.4 443.3,638.26 445.3,637.15 447.3,636.08 449.3,635.04 451.3,634.04 453.3,633.05 455.3,632.09 457.3,631.15 459.3,630.23 461.3,629.32 463.3,628.42 465.3,627.52 467.3,626.63 469.3,625.73 471.3,624.82 473.3,623.91 475.3,622.98 477.3,622.05 479.3,621.11 481.3,620.16 483.3,619.22 485.3,618.28 487.3,617.36 489.3,616.47 491.3,615.62 493.3,614.82 495.3,614.08 497.3,613.4 499.3,612.79 501.3,612.24 503.3,611.74 505.3,611.28 507.3,610.86 509.3,610.45 511.3,610.06 513.3,609.68 515.3,609.32 517.3,608.97 519.3,608.64 521.3,608.32 523.3,608.04 525.3,607.77 527.3,607.53 529.3,607.3 531.3,607.09 533.3,606.9 535.3,606.71 537.3,606.52 539.3,606.35 541.3,606.18 543.3,606.02 545.3,605.88 547.3,605.75 549.3,605.63 551.3,605.54 553.3,605.47 555.3,605.43 557.3,605.42 559.3,605.44 561.3,605.5 563.3,605.59 565.3,605.71 567.3,605.83 569.3,605.97 571.3,606.1 573.3,606.23 575.3,606.35 577.3,606.46 579.2,606.56" fill="none" stroke="#ff00ff" stroke-width="3.6" stroke-linejoin="round" stroke-linecap="butt"/>
</g>
<g id="c3">
<line x1="848.88" y1="549.3" x2="848.88" y2="868.5" stroke="#b8b8b8" stroke-width="1.1"/>
<line x1="894.76" y1="549.3" x2="894.76" y2="868.5" stroke="#b8b8b8" stroke-width="1.1"/>
<line x1="940.65" y1="549.3" x2="940.65" y2="868.5" stroke="#b8b8b8" stroke-width="1.1"/>
<line x1="986.53" y1="549.3" x2="986.53" y2="868.5" stroke="#b8b8b8" stroke-width="1.1"/>
<line x1="1032.41" y1="549.3" x2="1032.41" y2="868.5" stroke="#b8b8b8" stroke-width="1.1"/>
<line x1="1078.29" y1="549.3" x2="1078.29" y2="868.5" stroke="#b8b8b8" stroke-width="1.1"/>
<line x1="1124.17" y1="549.3" x2="1124.17" y2="868.5" stroke="#b8b8b8" stroke-width="1.1"/>
<line x1="1170.05" y1="549.3" x2="1170.05" y2="868.5" stroke="#b8b8b8" stroke-width="1.1"/>
<line x1="1215.94" y1="549.3" x2="1215.94" y2="868.5" stroke="#b8b8b8" stroke-width="1.1"/>
<line x1="1261.82" y1="549.3" x2="1261.82" y2="868.5" stroke="#b8b8b8" stroke-width="1.1"/>
<line x1="803" y1="788.7" x2="1307.7" y2="788.7" stroke="#b8b8b8" stroke-width="1.1"/>
<line x1="803" y1="708.9" x2="1307.7" y2="708.9" stroke="#b8b8b8" stroke-width="1.1"/>
<line x1="803" y1="629.1" x2="1307.7" y2="629.1" stroke="#b8b8b8" stroke-width="1.1"/>
<line x1="825.94" y1="868.5" x2="825.94" y2="875.5" stroke="#000" stroke-width="1.2"/>
<line x1="871.82" y1="868.5" x2="871.82" y2="875.5" stroke="#000" stroke-width="1.2"/>
<line x1="917.7" y1="868.5" x2="917.7" y2="875.5" stroke="#000" stroke-width="1.2"/>
<line x1="963.59" y1="868.5" x2="963.59" y2="875.5" stroke="#000" stroke-width="1.2"/>
<line x1="1009.47" y1="868.5" x2="1009.47" y2="875.5" stroke="#000" stroke-width="1.2"/>
<line x1="1055.35" y1="868.5" x2="1055.35" y2="875.5" stroke="#000" stroke-width="1.2"/>
<line x1="1101.23" y1="868.5" x2="1101.23" y2="875.5" stroke="#000" stroke-width="1.2"/>
<line x1="1147.11" y1="868.5" x2="1147.11" y2="875.5" stroke="#000" stroke-width="1.2"/>
<line x1="1193" y1="868.5" x2="1193" y2="875.5" stroke="#000" stroke-width="1.2"/>
<line x1="1238.88" y1="868.5" x2="1238.88" y2="875.5" stroke="#000" stroke-width="1.2"/>
<line x1="1284.76" y1="868.5" x2="1284.76" y2="875.5" stroke="#000" stroke-width="1.2"/>
<line x1="803" y1="868.5" x2="803" y2="882" stroke="#000" stroke-width="1.3"/>
<line x1="848.88" y1="868.5" x2="848.88" y2="882" stroke="#000" stroke-width="1.3"/>
<line x1="894.76" y1="868.5" x2="894.76" y2="882" stroke="#000" stroke-width="1.3"/>
<line x1="940.65" y1="868.5" x2="940.65" y2="882" stroke="#000" stroke-width="1.3"/>
<line x1="986.53" y1="868.5" x2="986.53" y2="882" stroke="#000" stroke-width="1.3"/>
<line x1="1032.41" y1="868.5" x2="1032.41" y2="882" stroke="#000" stroke-width="1.3"/>
<line x1="1078.29" y1="868.5" x2="1078.29" y2="882" stroke="#000" stroke-width="1.3"/>
<line x1="1124.17" y1="868.5" x2="1124.17" y2="882" stroke="#000" stroke-width="1.3"/>
<line x1="1170.05" y1="868.5" x2="1170.05" y2="882" stroke="#000" stroke-width="1.3"/>
<line x1="1215.94" y1="868.5" x2="1215.94" y2="882" stroke="#000" stroke-width="1.3"/>
<line x1="1261.82" y1="868.5" x2="1261.82" y2="882" stroke="#000" stroke-width="1.3"/>
<line x1="1307.7" y1="868.5" x2="1307.7" y2="882" stroke="#000" stroke-width="1.3"/>
<line x1="796" y1="852.54" x2="803" y2="852.54" stroke="#000" stroke-width="1.2"/>
<line x1="796" y1="836.58" x2="803" y2="836.58" stroke="#000" stroke-width="1.2"/>
<line x1="796" y1="820.62" x2="803" y2="820.62" stroke="#000" stroke-width="1.2"/>
<line x1="796" y1="804.66" x2="803" y2="804.66" stroke="#000" stroke-width="1.2"/>
<line x1="796" y1="772.74" x2="803" y2="772.74" stroke="#000" stroke-width="1.2"/>
<line x1="796" y1="756.78" x2="803" y2="756.78" stroke="#000" stroke-width="1.2"/>
<line x1="796" y1="740.82" x2="803" y2="740.82" stroke="#000" stroke-width="1.2"/>
<line x1="796" y1="724.86" x2="803" y2="724.86" stroke="#000" stroke-width="1.2"/>
<line x1="796" y1="692.94" x2="803" y2="692.94" stroke="#000" stroke-width="1.2"/>
<line x1="796" y1="676.98" x2="803" y2="676.98" stroke="#000" stroke-width="1.2"/>
<line x1="796" y1="661.02" x2="803" y2="661.02" stroke="#000" stroke-width="1.2"/>
<line x1="796" y1="645.06" x2="803" y2="645.06" stroke="#000" stroke-width="1.2"/>
<line x1="796" y1="613.14" x2="803" y2="613.14" stroke="#000" stroke-width="1.2"/>
<line x1="796" y1="597.18" x2="803" y2="597.18" stroke="#000" stroke-width="1.2"/>
<line x1="796" y1="581.22" x2="803" y2="581.22" stroke="#000" stroke-width="1.2"/>
<line x1="796" y1="565.26" x2="803" y2="565.26" stroke="#000" stroke-width="1.2"/>
<line x1="789.5" y1="868.5" x2="803" y2="868.5" stroke="#000" stroke-width="1.3"/>
<line x1="789.5" y1="788.7" x2="803" y2="788.7" stroke="#000" stroke-width="1.3"/>
<line x1="789.5" y1="708.9" x2="803" y2="708.9" stroke="#000" stroke-width="1.3"/>
<line x1="789.5" y1="629.1" x2="803" y2="629.1" stroke="#000" stroke-width="1.3"/>
<line x1="789.5" y1="549.3" x2="803" y2="549.3" stroke="#000" stroke-width="1.3"/>
<line x1="1307.7" y1="855.73" x2="1314.7" y2="855.73" stroke="#000" stroke-width="1.2"/>
<line x1="1307.7" y1="842.96" x2="1314.7" y2="842.96" stroke="#000" stroke-width="1.2"/>
<line x1="1307.7" y1="830.2" x2="1314.7" y2="830.2" stroke="#000" stroke-width="1.2"/>
<line x1="1307.7" y1="817.43" x2="1314.7" y2="817.43" stroke="#000" stroke-width="1.2"/>
<line x1="1307.7" y1="791.89" x2="1314.7" y2="791.89" stroke="#000" stroke-width="1.2"/>
<line x1="1307.7" y1="779.12" x2="1314.7" y2="779.12" stroke="#000" stroke-width="1.2"/>
<line x1="1307.7" y1="766.36" x2="1314.7" y2="766.36" stroke="#000" stroke-width="1.2"/>
<line x1="1307.7" y1="753.59" x2="1314.7" y2="753.59" stroke="#000" stroke-width="1.2"/>
<line x1="1307.7" y1="728.05" x2="1314.7" y2="728.05" stroke="#000" stroke-width="1.2"/>
<line x1="1307.7" y1="715.28" x2="1314.7" y2="715.28" stroke="#000" stroke-width="1.2"/>
<line x1="1307.7" y1="702.52" x2="1314.7" y2="702.52" stroke="#000" stroke-width="1.2"/>
<line x1="1307.7" y1="689.75" x2="1314.7" y2="689.75" stroke="#000" stroke-width="1.2"/>
<line x1="1307.7" y1="664.21" x2="1314.7" y2="664.21" stroke="#000" stroke-width="1.2"/>
<line x1="1307.7" y1="651.44" x2="1314.7" y2="651.44" stroke="#000" stroke-width="1.2"/>
<line x1="1307.7" y1="638.68" x2="1314.7" y2="638.68" stroke="#000" stroke-width="1.2"/>
<line x1="1307.7" y1="625.91" x2="1314.7" y2="625.91" stroke="#000" stroke-width="1.2"/>
<line x1="1307.7" y1="600.37" x2="1314.7" y2="600.37" stroke="#000" stroke-width="1.2"/>
<line x1="1307.7" y1="587.6" x2="1314.7" y2="587.6" stroke="#000" stroke-width="1.2"/>
<line x1="1307.7" y1="574.84" x2="1314.7" y2="574.84" stroke="#000" stroke-width="1.2"/>
<line x1="1307.7" y1="562.07" x2="1314.7" y2="562.07" stroke="#000" stroke-width="1.2"/>
<line x1="1307.7" y1="868.5" x2="1321.2" y2="868.5" stroke="#000" stroke-width="1.3"/>
<line x1="1307.7" y1="804.66" x2="1321.2" y2="804.66" stroke="#000" stroke-width="1.3"/>
<line x1="1307.7" y1="740.82" x2="1321.2" y2="740.82" stroke="#000" stroke-width="1.3"/>
<line x1="1307.7" y1="676.98" x2="1321.2" y2="676.98" stroke="#000" stroke-width="1.3"/>
<line x1="1307.7" y1="613.14" x2="1321.2" y2="613.14" stroke="#000" stroke-width="1.3"/>
<line x1="1307.7" y1="549.3" x2="1321.2" y2="549.3" stroke="#000" stroke-width="1.3"/>
<line x1="789.5" y1="549.3" x2="1321.2" y2="549.3" stroke="#000" stroke-width="1.8"/>
<line x1="803" y1="549.3" x2="803" y2="882" stroke="#000" stroke-width="1.5"/>
<line x1="789.5" y1="868.5" x2="1321.2" y2="868.5" stroke="#000" stroke-width="1.1"/>
<line x1="1307.7" y1="549.3" x2="1307.7" y2="882" stroke="#1a1a1a" stroke-width="1.2"/>
<text x="801.5" y="906.8" font-size="26" text-anchor="middle">-16</text>
<text x="847.38" y="906.8" font-size="26" text-anchor="middle">-14</text>
<text x="893.26" y="906.8" font-size="26" text-anchor="middle">-12</text>
<text x="939.15" y="906.8" font-size="26" text-anchor="middle">-10</text>
<text x="985.03" y="906.8" font-size="26" text-anchor="middle">-8</text>
<text x="1030.91" y="906.8" font-size="26" text-anchor="middle">-6</text>
<text x="1076.79" y="906.8" font-size="26" text-anchor="middle">-4</text>
<text x="1122.67" y="906.8" font-size="26" text-anchor="middle">-2</text>
<text x="1168.55" y="906.8" font-size="26" text-anchor="middle">0</text>
<text x="1214.44" y="906.8" font-size="26" text-anchor="middle">2</text>
<text x="1260.32" y="906.8" font-size="26" text-anchor="middle">4</text>
<text x="1306.2" y="906.8" font-size="26" text-anchor="middle">6</text>
<text x="785.7" y="877" font-size="26" text-anchor="end">10</text>
<text x="785.7" y="797.2" font-size="26" text-anchor="end">20</text>
<text x="785.7" y="717.4" font-size="26" text-anchor="end">30</text>
<text x="785.7" y="637.6" font-size="26" text-anchor="end">40</text>
<text x="785.7" y="557.8" font-size="26" text-anchor="end">50</text>
<text x="1321" y="877" font-size="26">0</text>
<text x="1321" y="813.16" font-size="26">5</text>
<text x="1321" y="749.32" font-size="26">10</text>
<text x="1321" y="685.48" font-size="26">15</text>
<text x="1321" y="621.64" font-size="26">20</text>
<text x="1321" y="557.8" font-size="26">25</text>
<polyline points="830.8,864.5 832.8,864.48 834.8,864.46 836.8,864.44 838.8,864.42 840.8,864.4 842.8,864.38 844.8,864.36 846.8,864.34 848.8,864.32 850.8,864.3 852.8,864.28 854.8,864.26 856.8,864.24 858.8,864.22 860.8,864.19 862.8,864.16 864.8,864.13 866.8,864.09 868.8,864.04 870.8,863.98 872.8,863.91 874.8,863.83 876.8,863.75 878.8,863.65 880.8,863.55 882.8,863.45 884.8,863.34 886.8,863.23 888.8,863.13 890.8,863.02 892.8,862.92 894.8,862.83 896.8,862.73 898.8,862.64 900.8,862.55 902.8,862.46 904.8,862.38 906.8,862.3 908.8,862.21 910.8,862.13 912.8,862.05 914.8,861.97 916.8,861.88 918.8,861.8 920.8,861.72 922.8,861.64 924.8,861.55 926.8,861.47 928.8,861.38 930.8,861.29 932.8,861.2 934.8,861.1 936.8,861 938.8,860.88 940.8,860.75 942.8,860.61 944.8,860.46 946.8,860.29 948.8,860.12 950.8,859.94 952.8,859.75 954.8,859.56 956.8,859.35 958.8,859.12 960.8,858.88 962.8,858.62 964.8,858.33 966.8,858.01 968.8,857.67 970.8,857.31 972.8,856.94 974.8,856.55 976.8,856.16 978.8,855.76 980.8,855.36 982.8,854.96 984.8,854.56 986.8,854.16 988.8,853.76 990.8,853.36 992.8,852.96 994.8,852.56 996.8,852.14 998.8,851.72 1000.8,851.29 1002.8,850.84 1004.8,850.37 1006.8,849.89 1008.8,849.39 1010.8,848.87 1012.8,848.35 1014.8,847.81 1016.8,847.26 1018.8,846.71 1020.8,846.14 1022.8,845.56 1024.8,844.95 1026.8,844.31 1028.8,843.63 1030.8,842.91 1032.8,842.15 1034.8,841.33 1036.8,840.48 1038.8,839.58 1040.8,838.65 1042.8,837.68 1044.8,836.68 1046.8,835.64 1048.8,834.55 1050.8,833.42 1052.8,832.25 1054.8,831.03 1056.8,829.77 1058.8,828.48 1060.8,827.16 1062.8,825.8 1064.8,824.42 1066.8,823 1068.8,821.53 1070.8,820.01 1072.8,818.44 1074.8,816.81 1076.8,815.13 1078.8,813.41 1080.8,811.64 1082.8,809.86 1084.8,808.05 1086.8,806.22 1088.8,804.38 1090.8,802.52 1092.8,800.64 1094.8,798.71 1096.8,796.74 1098.8,794.71 1100.8,792.6 1102.8,790.42 1104.8,788.16 1106.8,785.83 1108.8,783.45 1110.8,781.01 1112.8,778.54 1114.8,776.04 1116.8,773.51 1118.8,770.97 1120.8,768.4 1122.8,765.82 1124.8,763.22 1126.8,760.6 1128.8,757.96 1130.8,755.31 1132.8,752.65 1134.8,749.96 1136.8,747.25 1138.8,744.53 1140.8,741.79 1142.8,739.05 1144.8,736.31 1146.8,733.61 1148.8,730.93 1150.8,728.31 1152.8,725.74 1154.8,723.23 1156.8,720.76 1158.8,718.32 1160.8,715.91 1162.8,713.52 1164.8,711.13 1166.8,708.73 1168.8,706.33 1170.8,703.92 1172.8,701.49 1174.8,699.05 1176.8,696.6 1178.8,694.13 1180.8,691.64 1182.8,689.13 1184.8,686.6 1186.8,684.06 1188.8,681.49 1190.8,678.92 1192.8,676.34 1194.8,673.76 1196.8,671.19 1198.8,668.63 1200.8,666.1 1202.8,663.61 1204.8,661.16 1206.8,658.76 1208.8,656.4 1210.8,654.08 1212.8,651.8 1214.8,649.55 1216.8,647.32 1218.8,645.1 1220.8,642.88 1222.8,640.68 1224.8,638.47 1226.8,636.27 1228.8,634.06 1230.8,631.86 1232.8,629.66 1234.8,627.46 1236.8,625.28 1238.8,623.11 1240.8,620.96 1242.8,618.84 1244.8,616.76 1246.8,614.73 1248.8,612.75 1250.8,610.82 1252.8,608.94 1254.8,607.1 1256.8,605.31 1258.8,603.55 1260.8,601.82 1262.8,600.13 1264.8,598.48 1266.8,596.88 1268.8,595.31 1270.8,593.8 1272.8,592.33 1274.8,590.89 1276.8,589.49 1278.8,588.11 1280.8,586.75 1282.8,585.4 1284.8,584.06 1286.8,582.73 1288.8,581.39 1289.2,580.72" fill="none" stroke="#ff0000" stroke-width="3.6" stroke-linejoin="round" stroke-linecap="butt"/>
<polyline points="830.8,551 860.4,550.6" fill="none" stroke="#0000ff" stroke-width="3.6"/>
<polyline points="860.4,550.6 862.4,551.57 864.4,552.55 866.4,553.52 868.4,554.49 870.4,555.47 872.4,556.44 874.4,557.41 876.4,558.39 878.4,559.36 880.4,560.33 882.4,561.31 884.4,562.28 886.4,563.26 888.4,564.24 890.4,565.22 892.4,566.2 894.4,567.19 896.4,568.18 898.4,569.18 900.4,570.18 902.4,571.18 904.4,572.19 906.4,573.2 908.4,574.22 910.4,575.25 912.4,576.28 914.4,577.33 916.4,578.38 918.4,579.44 920.4,580.51 922.4,581.59 924.4,582.67 926.4,583.76 928.4,584.86 930.4,585.97 932.4,587.1 934.4,588.25 936.4,589.44 938.4,590.68 940.4,591.96 942.4,593.29 944.4,594.68 946.4,596.1 948.4,597.57 950.4,599.08 952.4,600.61 954.4,602.18 956.4,603.77 958.4,605.39 960.4,607.05 962.4,608.73 964.4,610.45 966.4,612.19 968.4,613.95 970.4,615.73 972.4,617.52 974.4,619.32 976.4,621.13 978.4,622.95 980.4,624.78 982.4,626.62 984.4,628.48 986.4,630.35 988.4,632.23 990.4,634.12 992.4,636.02 994.4,637.93 996.4,639.85 998.4,641.77 1000.4,643.7 1002.4,645.63 1004.4,647.58 1006.4,649.54 1008.4,651.53 1010.4,653.54 1012.4,655.6 1014.4,657.7 1016.4,659.85 1018.4,662.05 1020.4,664.29 1022.4,666.57 1024.4,668.88 1026.4,671.22 1028.4,673.56 1030.4,675.92 1032.4,678.27 1034.4,680.62 1036.4,682.95 1038.4,685.26 1040.4,687.54 1042.4,689.8 1044.4,692.01 1046.4,694.2 1048.4,696.35 1050.4,698.48 1052.4,700.58 1054.4,702.67 1056.4,704.76 1058.4,706.83 1060.4,708.91 1062.4,710.98 1064.4,713.05 1066.4,715.12 1068.4,717.2 1070.4,719.27 1072.4,721.35 1074.4,723.43 1076.4,725.51 1078.4,727.6 1080.4,729.68 1082.4,731.77 1084.4,733.87 1086.4,735.96 1088.4,738.06 1090.4,740.15 1092.4,742.24 1094.4,744.33 1096.4,746.41 1098.4,748.48 1100.4,750.54 1102.4,752.58 1104.4,754.62 1106.4,756.64 1108.4,758.65 1110.4,760.65 1112.4,762.62 1114.4,764.57 1116.4,766.49 1118.4,768.38 1120.4,770.23 1122.4,772.03 1124.4,773.79 1126.4,775.52 1128.4,777.21 1130.4,778.86 1132.4,780.49 1134.4,782.1 1136.4,783.67 1138.4,785.21 1140.4,786.72 1142.4,788.2 1144.4,789.66 1146.4,791.08 1148.4,792.48 1150.4,793.85 1152.4,795.2 1154.4,796.53 1156.4,797.83 1158.4,799.09 1160.4,800.31 1162.4,801.5 1164.4,802.64 1166.4,803.74 1168.4,804.81 1170.4,805.86 1172.4,806.89 1174.4,807.9 1176.4,808.91 1178.4,809.9 1180.4,810.89 1182.4,811.87 1184.4,812.83 1186.4,813.79 1188.4,814.74 1190.4,815.67 1192.4,816.61 1194.4,817.53 1196.4,818.45 1198.4,819.36 1200.4,820.26 1202.4,821.15 1204.4,822.02 1206.4,822.88 1208.4,823.72 1210.4,824.54 1212.4,825.34 1214.4,826.13 1216.4,826.9 1218.4,827.66 1220.4,828.41 1222.4,829.14 1224.4,829.85 1226.4,830.55 1228.4,831.23 1230.4,831.88 1232.4,832.52 1234.4,833.13 1236.4,833.72 1238.4,834.3 1240.4,834.88 1242.4,835.44 1244.4,836 1246.4,836.56 1248.4,837.11 1250.4,837.66 1252.4,838.2 1254.4,838.72 1256.4,839.23 1258.4,839.72 1260.4,840.18 1262.4,840.62 1264.4,841.02 1266.4,841.4 1268.4,841.76 1270.4,842.1 1272.4,842.42 1274.4,842.74 1276.4,843.04 1278.4,843.35 1280.4,843.65 1282.4,843.94 1284.4,844.24 1286.4,844.52 1288.4,844.81 1288.5,844.95" fill="none" stroke="#0000ff" stroke-width="3.6" stroke-linejoin="round" stroke-linecap="butt"/>
</g>
<text x="19.5" y="272.63" font-size="24.5" fill="#ff00ff" textLength="41.73" lengthAdjust="spacingAndGlyphs" transform="rotate(-90 19.5 272.63)">PAE</text>
<text x="19.5" y="230.38" font-size="24.5" fill="#ff00ff" textLength="63.7" lengthAdjust="spacingAndGlyphs" transform="rotate(-90 19.5 230.38)">_total</text>
<text x="47.6" y="277.04" font-size="24.5" fill="#ff0000" textLength="49.81" lengthAdjust="spacingAndGlyphs" transform="rotate(-90 47.6 277.04)">Pout</text>
<text x="47.6" y="226.48" font-size="24.5" fill="#ff0000" textLength="64.11" lengthAdjust="spacingAndGlyphs" transform="rotate(-90 47.6 226.48)">_total</text>
<text x="651.2" y="178.04" font-size="25.3" fill="#0070c0" textLength="49" lengthAdjust="spacingAndGlyphs" transform="rotate(90 651.2 178.04)">Gain</text>
<text x="651.2" y="228.72" font-size="25.3" fill="#0070c0" textLength="63.7" lengthAdjust="spacingAndGlyphs" transform="rotate(90 651.2 228.72)">_total</text>
<text x="747.2" y="247.8" font-size="26.5" fill="#0000ff" textLength="55.34" lengthAdjust="spacingAndGlyphs" transform="rotate(-90 747.2 247.8)">NPR</text>
<text x="1380.6" y="164.42" font-size="26.5" fill="#ff0000" textLength="105.46" lengthAdjust="spacingAndGlyphs" transform="rotate(90 1380.6 164.42)">FOM (%)</text>
<text x="19.8" y="736.62" font-size="24.5" fill="#ff00ff" textLength="41.52" lengthAdjust="spacingAndGlyphs" transform="rotate(-90 19.8 736.62)">PAE</text>
<text x="19.8" y="694.48" font-size="24.5" fill="#ff00ff" textLength="63.9" lengthAdjust="spacingAndGlyphs" transform="rotate(-90 19.8 694.48)">_total</text>
<text x="48.3" y="741.56" font-size="24.5" fill="#ff0000" textLength="50.33" lengthAdjust="spacingAndGlyphs" transform="rotate(-90 48.3 741.56)">Pout</text>
<text x="48.3" y="690.38" font-size="24.5" fill="#ff0000" textLength="64.21" lengthAdjust="spacingAndGlyphs" transform="rotate(-90 48.3 690.38)">_total</text>
<text x="652.2" y="642.24" font-size="25.3" fill="#0070c0" textLength="49" lengthAdjust="spacingAndGlyphs" transform="rotate(90 652.2 642.24)">Gain</text>
<text x="652.2" y="692.82" font-size="25.3" fill="#0070c0" textLength="64.21" lengthAdjust="spacingAndGlyphs" transform="rotate(90 652.2 692.82)">_total</text>
<text x="738.1" y="738.1" font-size="26.5" fill="#0000ff" textLength="55.45" lengthAdjust="spacingAndGlyphs" transform="rotate(-90 738.1 738.1)">NPR</text>
<text x="1372.4" y="654.93" font-size="26.3" fill="#ff0000" textLength="104.94" lengthAdjust="spacingAndGlyphs" transform="rotate(90 1372.4 654.93)">FOM (%)</text>
<text x="278.31" y="458" font-size="23.3" fill="#000" textLength="164.25" lengthAdjust="spacingAndGlyphs">Pin total (dBm)</text>
<text x="985.63" y="452.2" font-size="23.3" fill="#000" textLength="163.13" lengthAdjust="spacingAndGlyphs">Pin total (dBm)</text>
<text x="289.82" y="932.6" font-size="23.3" fill="#000" textLength="163.74" lengthAdjust="spacingAndGlyphs">Pin total (dBm)</text>
<text x="981.72" y="942.1" font-size="23.3" fill="#000" textLength="163.43" lengthAdjust="spacingAndGlyphs">Pin total (dBm)</text>
<rect x="516.4" y="0.9" width="336" height="42.5" fill="#fff" stroke="#555" stroke-width="1.4"/>
<text x="566.81" y="32.5" font-size="30.5" fill="#000" textLength="233.83" lengthAdjust="spacingAndGlyphs">Zload @ f0 =50 Ω</text>
<rect x="494.8" y="480.3" width="404.5" height="42.7" fill="#fff" stroke="#555" stroke-width="1.4"/>
<text x="542.09" y="511.3" font-size="30" fill="#000" textLength="309.41" lengthAdjust="spacingAndGlyphs">Zload @ f0 =28+j*25 Ω</text>
<ellipse cx="1048" cy="171.5" rx="16.2" ry="28" fill="none" stroke="#000" stroke-width="2" stroke-dasharray="18 12" stroke-dashoffset="-4.5" stroke-linecap="round"/>
<path d="M1040.6,196.7 H998.9 M1005.6,191 L998.9,196.7 L1005.6,202.4" fill="none" stroke="#000" stroke-width="2" stroke-linecap="round" stroke-linejoin="miter"/>
<ellipse cx="1190" cy="179.5" rx="16.2" ry="28" fill="none" stroke="#000" stroke-width="2" stroke-dasharray="18 12" stroke-dashoffset="-4.8" stroke-linecap="round"/>
<path d="M1206.2,176.1 H1238.9 M1232.2,170.4 L1238.9,176.1 L1232.2,181.8" fill="none" stroke="#000" stroke-width="2" stroke-linecap="round" stroke-linejoin="miter"/>
<ellipse cx="1032" cy="669.8" rx="16.2" ry="28" fill="none" stroke="#000" stroke-width="2" stroke-dasharray="18 12" stroke-dashoffset="-4.5" stroke-linecap="round"/>
<path d="M1019.1,685.3 H976.5 M983.2,679.6 L976.5,685.3 L983.2,691" fill="none" stroke="#000" stroke-width="2" stroke-linecap="round" stroke-linejoin="miter"/>
<ellipse cx="1190" cy="661.5" rx="16.2" ry="28" fill="none" stroke="#000" stroke-width="2" stroke-dasharray="18 12" stroke-dashoffset="-4.8" stroke-linecap="round"/>
<path d="M1206.2,664.3 H1238.9 M1232.2,658.6 L1238.9,664.3 L1232.2,670" fill="none" stroke="#000" stroke-width="2" stroke-linecap="round" stroke-linejoin="miter"/>
</svg></body></html>
